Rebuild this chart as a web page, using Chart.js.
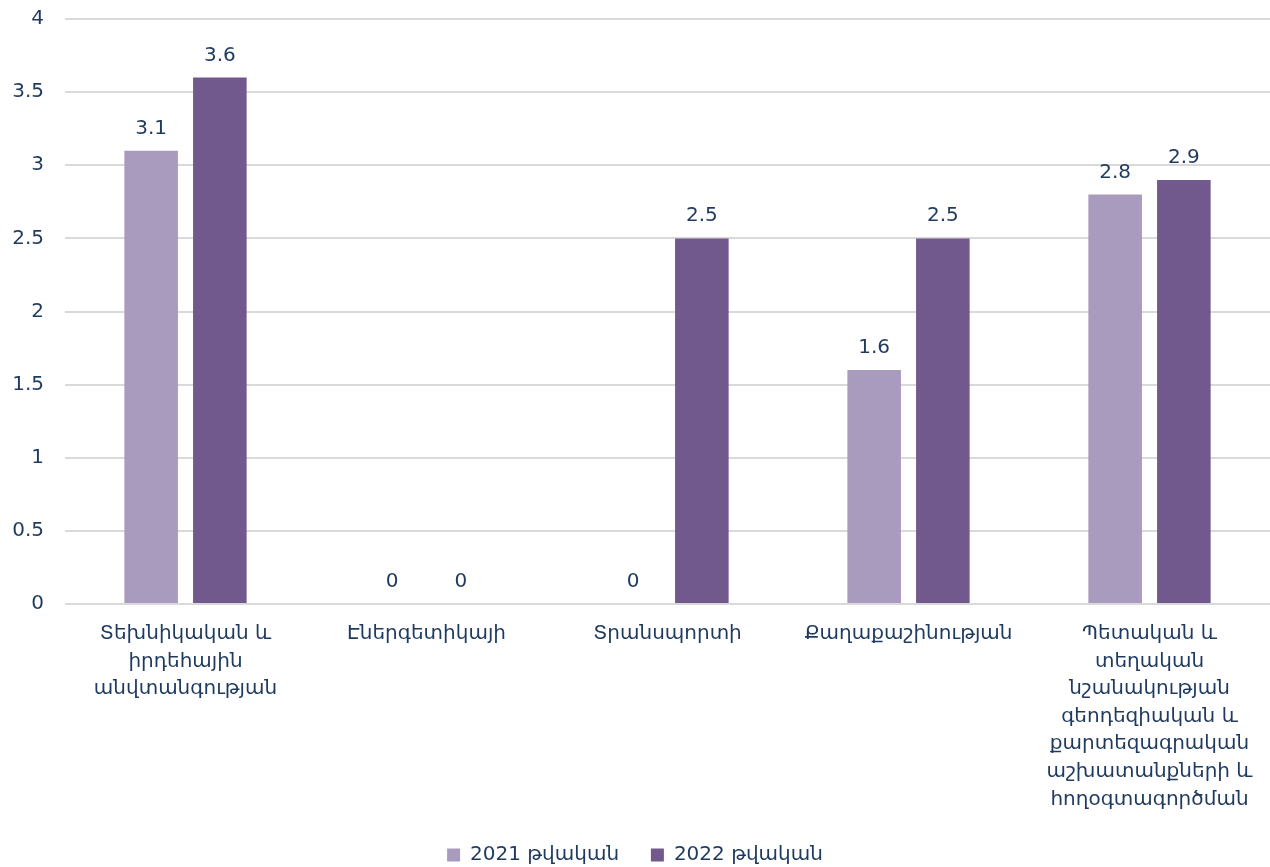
<!DOCTYPE html>
<html>
<head>
<meta charset="utf-8">
<script src="https://cdn.jsdelivr.net/npm/chart.js@4"></script>
<style>
html,body{margin:0;padding:0;background:#fff;}
#wrap{width:1270px;height:867px;position:relative;}
</style>
</head>
<body>
<div id="wrap"><canvas id="c" width="1270" height="867"></canvas></div>
<script>
const categories = [
  ["Տեխնիկական և", "իրդեհային", "անվտանգության"],
  ["Էներգետիկայի"],
  ["Տրանսպորտի"],
  ["Քաղաքաշինության"],
  ["Պետական և", "տեղական", "նշանակության", "գեոդեզիական և", "քարտեզագրական", "աշխատանքների և", "հողօգտագործման"]
];
const seriesNames = ["2021 թվական", "2022 թվական"];
const values2021 = [3.1, 0, 0, 1.6, 2.8];
const values2022 = [3.6, 0, 2.5, 2.5, 2.9];
const yTicks = [0, 0.5, 1, 1.5, 2, 2.5, 3, 3.5, 4];

const textColor = "#1F3A5F";
const FONT = "'DejaVu Sans', sans-serif";
const FS = 20;

const dataLabels = {
  id: "dataLabels",
  afterDatasetsDraw(chart) {
    const ctx = chart.ctx;
    ctx.save();
    ctx.font = FS + "px " + FONT;
    ctx.fillStyle = textColor;
    ctx.textAlign = "center";
    ctx.textBaseline = "alphabetic";
    chart.data.datasets.forEach((ds, di) => {
      const meta = chart.getDatasetMeta(di);
      meta.data.forEach((el, i) => {
        ctx.fillText(String(ds.data[i]), el.x, el.y - 17);
      });
    });
    ctx.restore();
  }
};

new Chart(document.getElementById("c"), {
  type: "bar",
  data: {
    labels: categories,
    datasets: [
      { label: seriesNames[0], data: values2021, backgroundColor: "#A99BBE", categoryPercentage: 0.57, barPercentage: 0.78 },
      { label: seriesNames[1], data: values2022, backgroundColor: "#72598D", categoryPercentage: 0.57, barPercentage: 0.78 }
    ]
  },
  options: {
    responsive: false,
    animation: false,
    devicePixelRatio: 1,
    layout: { padding: { top: 19, right: 0, left: 0, bottom: -8 } },
    plugins: {
      legend: {
        position: "bottom",
        labels: {
          boxWidth: 13, boxHeight: 13, padding: 0,
          color: textColor,
          font: { family: FONT, size: FS },
          generateLabels(chart) {
            const items = Chart.defaults.plugins.legend.labels.generateLabels(chart);
            items.forEach((it, i) => { if (i < items.length - 1) it.text = it.text + "     "; });
            return items;
          }
        }
      },
      tooltip: { enabled: false }
    },
    scales: {
      x: {
        grid: { display: false, drawTicks: false },
        border: { display: false },
        ticks: { color: textColor, font: { family: FONT, size: FS, lineHeight: 1.38 }, padding: 16, maxRotation: 0, autoSkip: false },
        afterFit(axis) { axis.height = 241; }
      },
      y: {
        min: 0, max: 4,
        afterBuildTicks(axis) { axis.ticks = yTicks.map(v => ({ value: v })); },
        grid: { color: "#D9D9D9", lineWidth: 2, drawTicks: false },
        border: { display: false },
        ticks: { color: textColor, font: { family: FONT, size: FS }, padding: 21, callback: v => String(v) },
        afterFit(axis) { axis.width = 65; axis.paddingTop = 0; axis.paddingBottom = 0; }
      }
    }
  },
  plugins: [dataLabels]
});
</script>
</body>
</html>
